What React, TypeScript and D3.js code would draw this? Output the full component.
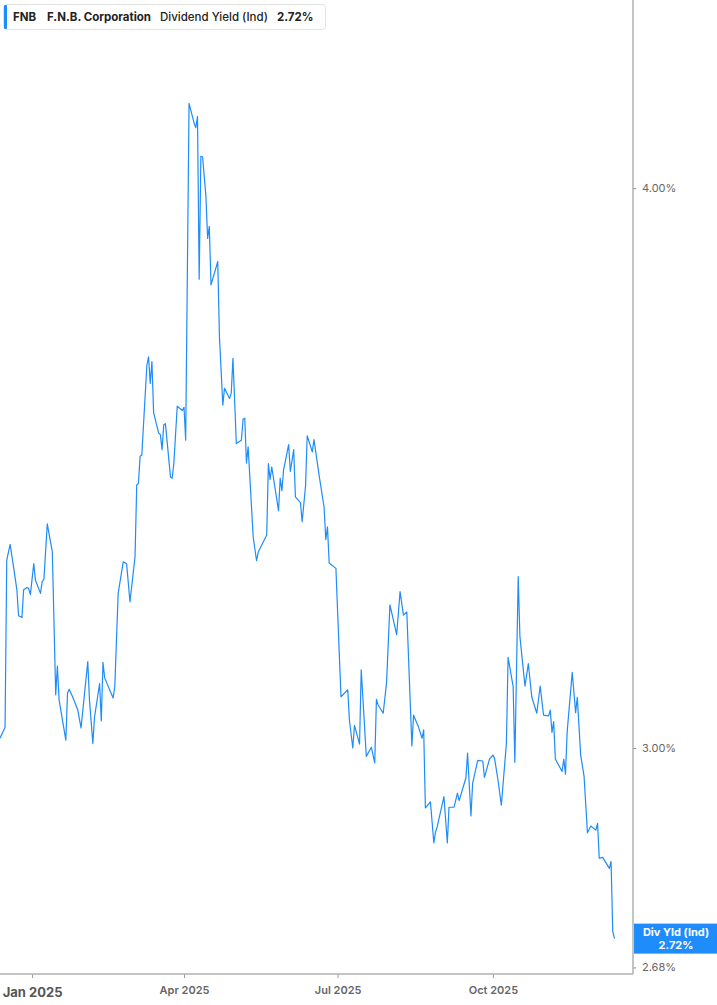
import { useEffect, useRef } from "react";
import * as d3 from "d3";

// Dividend yield (Ind) for FNB (percent)
const dates = [
  "2024-12-13", "2024-12-16", "2024-12-17", "2024-12-19", "2024-12-21", "2024-12-23", "2024-12-24", "2024-12-26",
  "2024-12-27", "2024-12-29", "2024-12-30", "2024-12-31", "2025-01-02", "2025-01-03", "2025-01-06", "2025-01-07",
  "2025-01-08", "2025-01-10", "2025-01-13", "2025-01-15", "2025-01-16", "2025-01-17", "2025-01-21", "2025-01-22",
  "2025-01-23", "2025-01-25", "2025-01-28", "2025-01-30", "2025-02-03", "2025-02-04", "2025-02-06", "2025-02-07",
  "2025-02-10", "2025-02-11", "2025-02-12", "2025-02-13", "2025-02-18", "2025-02-19", "2025-02-21", "2025-02-24",
  "2025-02-26", "2025-02-28", "2025-03-03", "2025-03-04", "2025-03-05", "2025-03-06", "2025-03-07", "2025-03-10",
  "2025-03-11", "2025-03-12", "2025-03-13", "2025-03-14", "2025-03-17", "2025-03-18", "2025-03-19", "2025-03-20",
  "2025-03-21", "2025-03-24", "2025-03-25", "2025-03-26", "2025-03-28", "2025-03-31", "2025-04-01", "2025-04-02",
  "2025-04-04", "2025-04-07", "2025-04-08", "2025-04-09", "2025-04-10", "2025-04-11", "2025-04-12", "2025-04-14",
  "2025-04-15", "2025-04-16", "2025-04-17", "2025-04-21", "2025-04-22", "2025-04-24", "2025-04-25", "2025-04-28",
  "2025-04-29", "2025-04-30", "2025-05-02", "2025-05-05", "2025-05-06", "2025-05-07", "2025-05-08", "2025-05-09",
  "2025-05-12", "2025-05-14", "2025-05-15", "2025-05-20", "2025-05-21", "2025-05-22", "2025-05-23", "2025-05-27",
  "2025-05-28", "2025-05-29", "2025-05-30", "2025-06-02", "2025-06-03", "2025-06-05", "2025-06-06", "2025-06-09",
  "2025-06-10", "2025-06-12", "2025-06-13", "2025-06-16", "2025-06-17", "2025-06-20", "2025-06-23", "2025-06-24",
  "2025-06-25", "2025-06-26", "2025-06-30", "2025-07-03", "2025-07-07", "2025-07-08", "2025-07-10", "2025-07-11",
  "2025-07-14", "2025-07-15", "2025-07-18", "2025-07-21", "2025-07-23", "2025-07-24", "2025-07-25", "2025-07-28",
  "2025-07-30", "2025-08-01", "2025-08-05", "2025-08-07", "2025-08-09", "2025-08-11", "2025-08-14", "2025-08-15",
  "2025-08-18", "2025-08-20", "2025-08-21", "2025-08-22", "2025-08-25", "2025-08-27", "2025-08-28", "2025-08-29",
  "2025-09-02", "2025-09-04", "2025-09-05", "2025-09-08", "2025-09-10", "2025-09-11", "2025-09-15", "2025-09-16",
  "2025-09-18", "2025-09-19", "2025-09-22", "2025-09-25", "2025-09-26", "2025-09-29", "2025-10-01", "2025-10-02",
  "2025-10-04", "2025-10-06", "2025-10-09", "2025-10-10", "2025-10-13", "2025-10-14", "2025-10-16", "2025-10-17",
  "2025-10-20", "2025-10-22", "2025-10-24", "2025-10-27", "2025-10-29", "2025-10-31", "2025-11-03", "2025-11-04",
  "2025-11-05", "2025-11-06", "2025-11-07", "2025-11-11", "2025-11-12", "2025-11-13", "2025-11-14", "2025-11-17",
  "2025-11-19", "2025-11-20", "2025-11-22", "2025-11-24", "2025-11-26", "2025-11-28", "2025-12-01", "2025-12-02",
  "2025-12-03", "2025-12-05", "2025-12-09", "2025-12-10", "2025-12-11", "2025-12-12",
];

const yields = [
  3.015, 3.032, 3.304, 3.331, 3.293, 3.254, 3.211, 3.208,
  3.254, 3.258, 3.256, 3.246, 3.298, 3.27, 3.248, 3.268,
  3.271, 3.366, 3.318, 3.083, 3.129, 3.075, 3.012, 3.086,
  3.092, 3.08, 3.06, 3.031, 3.136, 3.075, 3.007, 3.048,
  3.101, 3.042, 3.135, 3.11, 3.078, 3.096, 3.248, 3.301,
  3.298, 3.234, 3.31, 3.434, 3.437, 3.485, 3.487, 3.652,
  3.668, 3.618, 3.659, 3.564, 3.527, 3.524, 3.497, 3.542,
  3.544, 3.448, 3.446, 3.473, 3.576, 3.568, 3.574, 3.514,
  4.178, 4.136, 4.126, 4.15, 3.817, 4.066, 4.065, 3.983,
  3.898, 3.922, 3.806, 3.852, 3.706, 3.578, 3.609, 3.59,
  3.6, 3.665, 3.508, 3.514, 3.552, 3.554, 3.473, 3.502,
  3.343, 3.303, 3.318, 3.347, 3.472, 3.444, 3.466, 3.389,
  3.446, 3.424, 3.461, 3.506, 3.458, 3.497, 3.413, 3.403,
  3.37, 3.432, 3.522, 3.493, 3.515, 3.452, 3.395, 3.339,
  3.361, 3.299, 3.29, 3.08, 3.091, 3.043, 3.0, 3.035,
  3.006, 3.123, 2.987, 3.001, 2.977, 3.076, 3.067, 3.054,
  3.102, 3.229, 3.18, 3.251, 3.212, 3.217, 3.003, 3.051,
  3.032, 3.015, 3.028, 2.909, 2.918, 2.857, 2.873, 2.881,
  2.926, 2.857, 2.91, 2.91, 2.931, 2.92, 2.954, 2.992,
  2.897, 2.946, 2.981, 2.98, 2.955, 2.983, 2.989, 2.984,
  2.951, 2.913, 3.007, 3.143, 3.096, 2.978, 3.276, 3.177,
  3.097, 3.133, 3.08, 3.054, 3.097, 3.051, 3.05, 3.059,
  3.024, 3.041, 2.983, 2.964, 2.983, 2.96, 3.025, 3.119,
  3.055, 3.079, 2.989, 2.957, 2.872, 2.882, 2.876, 2.886,
  2.835, 2.836, 2.82, 2.83, 2.73, 2.72,
];

const yTicks = [2.68, 3, 4];
const xTicks = ["2025-01-01", "2025-04-01", "2025-07-01", "2025-10-01"];
const xDomain = ["2024-12-13", "2025-12-23"];
const yDomain = [2.671, 4.406];

const ticker = "FNB";
const company = "F.N.B. Corporation";
const metric = "Dividend Yield (Ind)";
const lastLabel = "2.72%";

const BLUE = "#1e8cfa";
const FONT = "Inter, Roboto, 'Noto Sans', sans-serif";

export default function App() {
  const ref = useRef<SVGSVGElement>(null);

  useEffect(() => {
    if (!ref.current) return;
    const W = 717;
    const H = 1005;
    const plotRight = 633;
    const plotBottom = 974;
    const parse = d3.timeParse("%Y-%m-%d");

    const svg = d3.select(ref.current);
    svg.selectAll("*").remove();

    const data = dates.map((d, i) => ({ date: parse(d) as Date, value: yields[i] }));

    const x = d3
      .scaleTime()
      .domain(xDomain.map((d) => parse(d) as Date))
      .range([0, plotRight]);
    const y = d3.scaleLog().domain(yDomain).range([plotBottom, 0]);

    svg.append("rect").attr("width", W).attr("height", H).attr("fill", "#fff");

    // line
    const line = d3
      .line<{ date: Date; value: number }>()
      .x((d) => x(d.date))
      .y((d) => y(d.value));

    svg
      .append("path")
      .datum(data)
      .attr("d", line)
      .attr("fill", "none")
      .attr("stroke", BLUE)
      .attr("stroke-width", 1.2)
      .attr("stroke-linejoin", "round");

    // right axis
    const yAxis = svg
      .append("g")
      .attr("transform", `translate(${plotRight},0)`)
      .call(
        d3
          .axisRight(y)
          .tickValues(yTicks)
          .tickSize(3)
          .tickPadding(6)
          .tickFormat((d) => `${(d as number).toFixed(2)}%`)
      );
    yAxis.select(".domain").remove();
    yAxis.selectAll(".tick line").attr("stroke", "#888");
    yAxis
      .selectAll(".tick text")
      .attr("fill", "#666")
      .attr("font-size", "11px")
      .attr("font-family", FONT);

    svg
      .append("line")
      .attr("x1", plotRight)
      .attr("x2", plotRight)
      .attr("y1", 0)
      .attr("y2", plotBottom)
      .attr("stroke", "#b0b0b0")
      .attr("stroke-width", 1.5);

    // bottom axis
    const xAxis = svg
      .append("g")
      .attr("transform", `translate(0,${plotBottom})`)
      .call(
        d3
          .axisBottom(x)
          .tickValues(xTicks.map((d) => parse(d) as Date))
          .tickSize(4)
          .tickPadding(8)
          .tickFormat((d) => d3.timeFormat("%b %Y")(d as Date))
      );
    xAxis.select(".domain").remove();
    xAxis.selectAll(".tick line").attr("stroke", "#999");
    xAxis
      .selectAll(".tick text")
      .attr("fill", "#666")
      .attr("font-size", "11px")
      .attr("font-weight", "600")
      .attr("font-family", FONT);
    xAxis
      .selectAll(".tick text")
      .filter((_, i) => i === 0)
      .attr("font-size", "13px")
      .attr("font-weight", "700")
      .attr("fill", "#555")
      .attr("dy", "0.82em");

    svg
      .append("line")
      .attr("x1", 0)
      .attr("x2", plotRight)
      .attr("y1", plotBottom)
      .attr("y2", plotBottom)
      .attr("stroke", "#b0b0b0")
      .attr("stroke-width", 1.5);

    // last value badge
    const last = data[data.length - 1];
    const ly = y(last.value);
    const bx = (plotRight + W) / 2 + 1;
    svg
      .append("rect")
      .attr("x", plotRight + 1)
      .attr("y", ly - 15)
      .attr("width", W - plotRight - 1)
      .attr("height", 30)
      .attr("fill", BLUE);
    const badge = svg
      .append("text")
      .attr("text-anchor", "middle")
      .attr("fill", "#fff")
      .attr("font-size", "11px")
      .attr("font-weight", "700")
      .attr("font-family", FONT);
    badge.append("tspan").attr("x", bx).attr("y", ly - 3).text("Div Yld (Ind)");
    badge.append("tspan").attr("x", bx).attr("y", ly + 10).text(lastLabel);

    // legend box
    const lg = svg.append("g").attr("font-family", FONT).attr("font-size", "11.5px").attr("fill", "#222");
    lg.append("rect")
      .attr("x", 3.5)
      .attr("y", 4.5)
      .attr("width", 322)
      .attr("height", 25)
      .attr("rx", 3)
      .attr("fill", "#fff")
      .attr("stroke", "#e3e3e3");
    lg.append("rect").attr("x", 4).attr("y", 5).attr("width", 3).attr("height", 24).attr("rx", 1).attr("fill", BLUE);
    lg.append("text").attr("x", 13).attr("y", 21).attr("font-weight", "700").text(ticker);
    lg.append("text").attr("x", 47).attr("y", 21).attr("font-weight", "700").text(company);
    lg.append("text").attr("x", 160).attr("y", 21).attr("font-weight", "500").text(metric);
    lg.append("text").attr("x", 277).attr("y", 21).attr("font-weight", "700").text(lastLabel);
  }, []);

  return (
    <svg
      ref={ref}
      width={717}
      height={1005}
      style={{ position: "absolute", left: 0, top: 0, display: "block" }}
    />
  );
}
